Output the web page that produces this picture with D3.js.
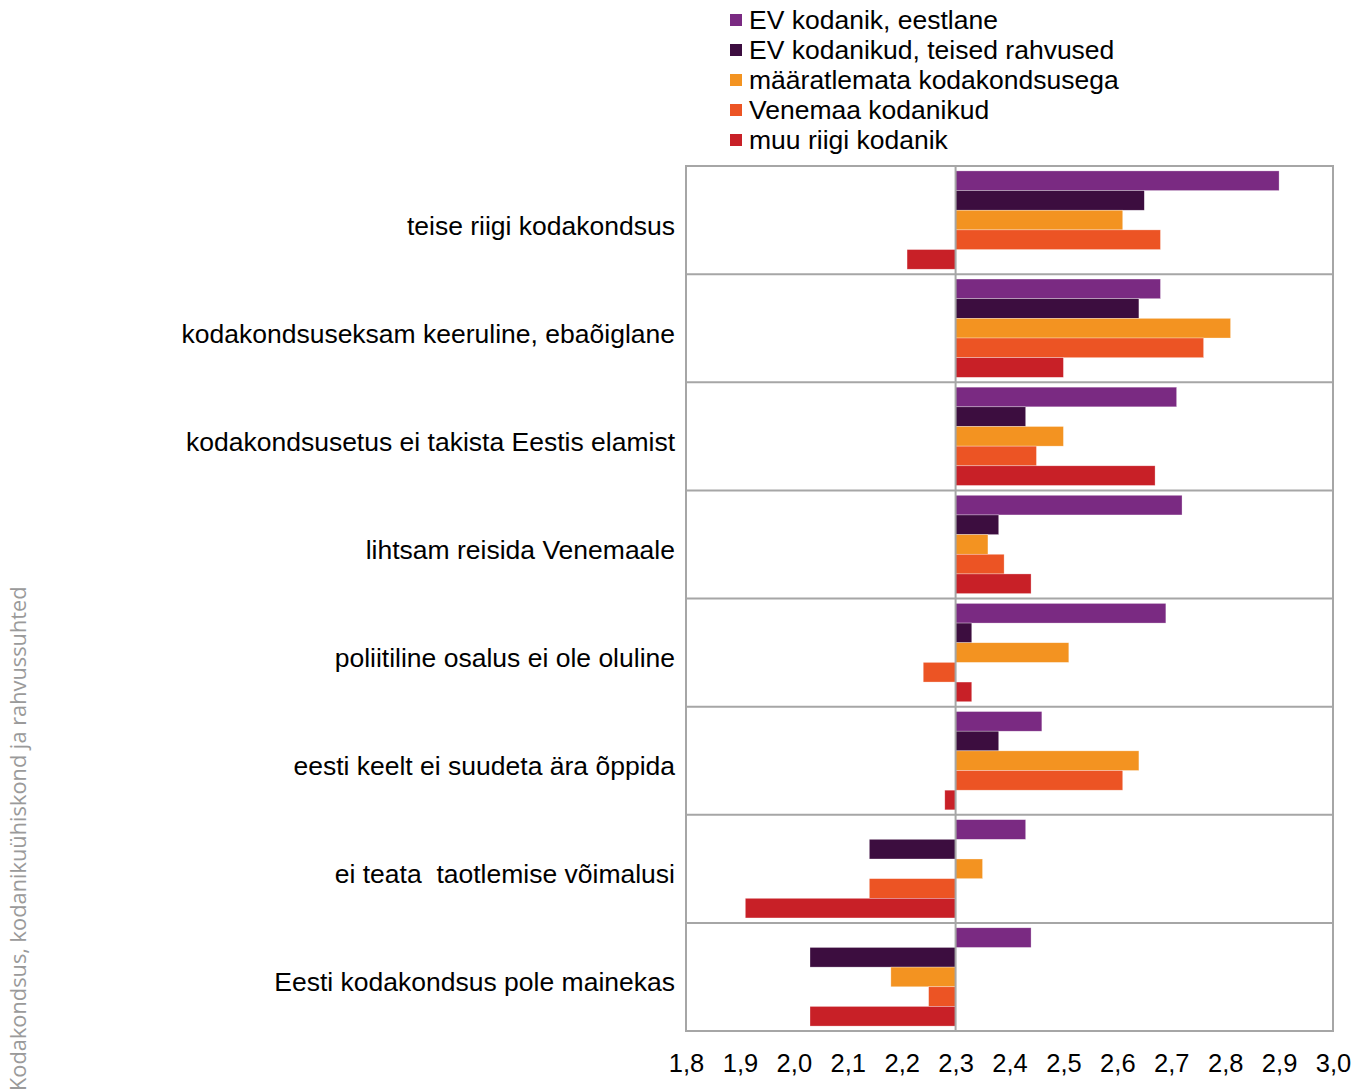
<!DOCTYPE html>
<html>
<head>
<meta charset="utf-8">
<script src="https://cdn.jsdelivr.net/npm/d3@7"></script>
<style>
  body { margin: 0; background: #fff; }
</style>
</head>
<body>
<svg id="chart" width="1359" height="1092" font-family="'Liberation Sans', Arial, sans-serif"></svg>
<script>
// categories, top to bottom
var categories = [
  "teise riigi kodakondsus",
  "kodakondsuseksam keeruline, ebaõiglane",
  "kodakondsusetus ei takista Eestis elamist",
  "lihtsam reisida Venemaale",
  "poliitiline osalus ei ole oluline",
  "eesti keelt ei suudeta ära õppida",
  "ei teata  taotlemise võimalusi",
  "Eesti kodakondsus pole mainekas"
];
var seriesNames = [
  "EV kodanik, eestlane",
  "EV kodanikud, teised rahvused",
  "määratlemata kodakondsusega",
  "Venemaa kodanikud",
  "muu riigi kodanik"
];
var seriesColors = ["#7a2a82", "#3c0d3f", "#f39321", "#ec5424", "#c82027"];

// values per series, one per category
var evEestlane   = [2.90, 2.68, 2.71, 2.72, 2.69, 2.46, 2.43, 2.44];
var evTeised     = [2.65, 2.64, 2.43, 2.38, 2.33, 2.38, 2.14, 2.03];
var maaratlemata = [2.61, 2.81, 2.50, 2.36, 2.51, 2.64, 2.35, 2.18];
var venemaa      = [2.68, 2.76, 2.45, 2.39, 2.24, 2.61, 2.14, 2.25];
var muuRiik      = [2.21, 2.50, 2.67, 2.44, 2.33, 2.28, 1.91, 2.03];
var seriesValues = [evEestlane, evTeised, maaratlemata, venemaa, muuRiik];

var ticks = [1.8, 1.9, 2.0, 2.1, 2.2, 2.3, 2.4, 2.5, 2.6, 2.7, 2.8, 2.9, 3.0];
var baseline = 2.3;
var sideTitle = "Kodakondsus, kodanikuühiskond ja rahvussuhted";

var svg = d3.select("#chart");
var plotLeft = 686, plotRight = 1333, plotTop = 166, plotBottom = 1031;

var x = d3.scaleLinear().domain([1.8, 3.0]).range([plotLeft, plotRight]);
var y = d3.scaleBand().domain(categories).range([plotTop, plotBottom]);
var yInner = d3.scaleBand().domain(d3.range(seriesNames.length))
  .range([0, y.bandwidth()]).paddingOuter(0.25);

// frame + row separators
svg.append("rect")
  .attr("x", plotLeft).attr("y", plotTop)
  .attr("width", plotRight - plotLeft).attr("height", plotBottom - plotTop)
  .attr("fill", "none").attr("stroke", "#a6a6a6").attr("stroke-width", 2);

svg.append("g").selectAll("line")
  .data(categories.slice(1))
  .join("line")
  .attr("x1", plotLeft).attr("x2", plotRight)
  .attr("y1", d => y(d)).attr("y2", d => y(d))
  .attr("stroke", "#a6a6a6").attr("stroke-width", 2);

// bars
var rows = [];
categories.forEach(function(c, ci) {
  seriesValues.forEach(function(vals, si) {
    rows.push({cat: c, s: si, v: vals[ci]});
  });
});

svg.append("g").selectAll("rect")
  .data(rows)
  .join("rect")
  .attr("x", d => x(Math.min(d.v, baseline)))
  .attr("width", d => Math.abs(x(d.v) - x(baseline)))
  .attr("y", d => y(d.cat) + yInner(d.s))
  .attr("height", yInner.bandwidth())
  .attr("fill", d => seriesColors[d.s])
  .attr("stroke", "#fff").attr("stroke-opacity", 0.5).attr("stroke-width", 0.6);

// vertical axis line at baseline
svg.append("line")
  .attr("x1", x(baseline)).attr("x2", x(baseline))
  .attr("y1", plotTop).attr("y2", plotBottom)
  .attr("stroke", "#a6a6a6").attr("stroke-width", 2);

// category labels
svg.append("g").selectAll("text")
  .data(categories)
  .join("text")
  .attr("x", plotLeft - 11)
  .attr("y", d => y(d) + y.bandwidth() / 2 + 14.5)
  .attr("text-anchor", "end")
  .attr("font-size", 26.5)
  .attr("fill", "#000")
  .style("white-space", "pre")
  .text(d => d);

// x tick labels
var xAxis = d3.axisBottom(x).tickValues(ticks)
  .tickFormat(d => d3.format(".1f")(d).replace(".", ","))
  .tickSize(0).tickPadding(0);
var gx = svg.append("g").attr("transform", "translate(0," + 1072 + ")").call(xAxis);
gx.select(".domain").remove();
gx.attr("font-family", null).attr("font-size", null);
gx.selectAll("text")
  .attr("font-size", 25.5).attr("fill", "#000")
  .attr("dy", 0).attr("y", 0);

// legend
var legend = svg.append("g").selectAll("g")
  .data(seriesNames)
  .join("g")
  .attr("transform", (d, i) => "translate(730," + (20 + i * 30) + ")");
legend.append("rect")
  .attr("x", 0).attr("y", -6).attr("width", 12).attr("height", 12)
  .attr("fill", (d, i) => seriesColors[i]);
legend.append("text")
  .attr("x", 19).attr("y", 9)
  .attr("font-size", 26.5).attr("fill", "#000")
  .text(d => d);

// side title
svg.append("text")
  .attr("transform", "translate(26,1091) rotate(-90)")
  .attr("x", 0).attr("y", 0)
  .attr("font-family", "'Open Sans', sans-serif")
  .attr("font-size", 21.8)
  .attr("fill", "#9a9a9a")
  .text(sideTitle);
</script>
</body>
</html>
